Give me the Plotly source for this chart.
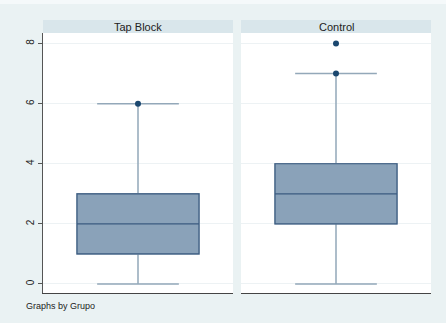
import plotly.graph_objects as go

groups = ["Tap Block", "Control"]
q1 = [1, 2]
median = [2, 3]
q3 = [3, 4]
lower_whisker = [0, 0]
upper_whisker = [6, 7]
outliers = [[6], [7, 8]]
yticks = [0, 2, 4, 6, 8]

W, H = 446, 323
bg = "#eaf2f3"
strip = "#d9e6eb"
fill = "#8aa2b9"
edge = "#3b5b80"
whisk = "#93a8b9"
dot = "#1a476f"

def px_x(v):
    return v / W

def px_y(v):
    return 1 - v / H

domains = [(px_x(43), px_x(233)), (px_x(241), px_x(431))]
ydom = (px_y(293), px_y(33))

fig = go.Figure()
for i, g in enumerate(groups):
    xa = "x" if i == 0 else "x2"
    ya = "y" if i == 0 else "y2"
    # whiskers
    fig.add_trace(go.Box(
        x=[0], q1=[q1[i]], median=[median[i]], q3=[q3[i]],
        lowerfence=[lower_whisker[i]], upperfence=[upper_whisker[i]],
        width=0.642, whiskerwidth=0.67, line=dict(color=whisk, width=1.5),
        fillcolor="rgba(0,0,0,0)", boxpoints=False, xaxis=xa, yaxis=ya,
        showlegend=False, hoverinfo="skip"))
    # box
    fig.add_trace(go.Box(
        x=[0], q1=[q1[i]], median=[median[i]], q3=[q3[i]],
        lowerfence=[q1[i]], upperfence=[q3[i]],
        width=0.642, whiskerwidth=0, line=dict(color=edge, width=1.2),
        fillcolor=fill, boxpoints=False, xaxis=xa, yaxis=ya,
        showlegend=False))
    fig.add_trace(go.Scatter(
        x=[0] * len(outliers[i]), y=outliers[i], mode="markers",
        marker=dict(color=dot, size=6), xaxis=xa, yaxis=ya, showlegend=False))

axis_common = dict(range=[-0.5, 0.5], showticklabels=False, ticks="",
                   showgrid=False, zeroline=False, showline=True,
                   linecolor="#444444", linewidth=1.2, mirror=False)
fig.update_layout(
    width=W, height=H, margin=dict(l=0, r=0, t=0, b=0),
    paper_bgcolor=bg, plot_bgcolor="white", boxmode="overlay",
    font=dict(family="Liberation Sans, Arial, sans-serif", color="#222222"),
    xaxis=dict(domain=domains[0], anchor="y", **axis_common),
    xaxis2=dict(domain=domains[1], anchor="y2", **axis_common),
    yaxis=dict(domain=ydom, anchor="x", range=[-0.3, 8.35], tickvals=yticks,
               tickangle=-90, ticks="outside", ticklen=4, tickcolor="#555555",
               tickfont=dict(size=10), showgrid=True, gridcolor="#edf2f4",
               zeroline=False, showline=True, linecolor="#555555", linewidth=1.2),
    yaxis2=dict(domain=ydom, anchor="x2", range=[-0.3, 8.35], tickvals=yticks,
                showticklabels=False, ticks="", showgrid=True, gridcolor="#edf2f4",
                zeroline=False, showline=False),
)

shapes = [dict(type="rect", xref="paper", yref="paper", x0=0, x1=1,
               y0=px_y(4), y1=1, fillcolor="#f5f9fa", line=dict(width=0), layer="below")]
annotations = []
for i, g in enumerate(groups):
    d0, d1 = domains[i]
    shapes.append(dict(type="rect", xref="paper", yref="paper", x0=d0, x1=d1,
                       y0=ydom[1], y1=px_y(20), fillcolor=strip,
                       line=dict(width=0), layer="below"))
    annotations.append(dict(text=g, xref="paper", yref="paper", x=(d0 + d1) / 2,
                            y=(ydom[1] + px_y(20)) / 2, showarrow=False,
                            xanchor="center", yanchor="middle",
                            font=dict(size=11, color="#222222")))
annotations.append(dict(text="Graphs by Grupo", xref="paper", yref="paper",
                        x=px_x(24), y=px_y(306), xanchor="left", yanchor="middle",
                        showarrow=False, font=dict(size=9, color="#222222")))
fig.update_layout(shapes=shapes, annotations=annotations)

fig.write_html("out.html")
